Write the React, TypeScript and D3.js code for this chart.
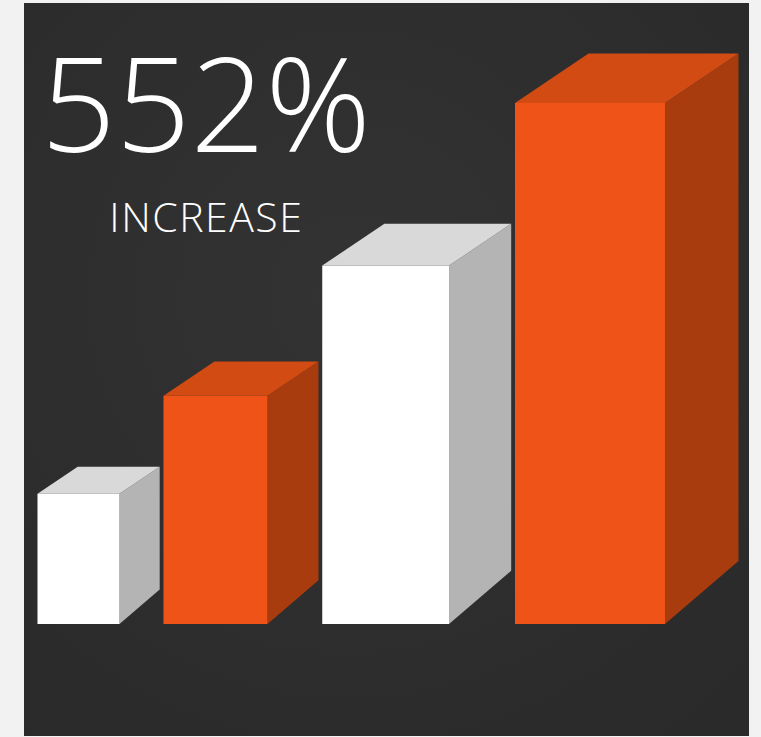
import React from "react";
import * as d3 from "d3";

const categories = ["Stage 1", "Stage 2", "Stage 3", "Stage 4"];
const values = [25, 43.8, 68.8, 100];
const palettes = ["white", "orange", "white", "orange"];
const headline = "552%";
const subline = "INCREASE";

const COLORS: Record<string, { front: string; top: string; side: string }> = {
  white: { front: "#ffffff", top: "#d9d9d9", side: "#b4b4b4" },
  orange: { front: "#ef5317", top: "#d14b12", side: "#a93c0f" },
};

const W = 761;
const H = 737;
const baseline = 624;

export default function App() {
  const y = d3.scaleLinear().domain([0, 100]).range([baseline, 103]);
  const wScale = d3.scaleSqrt().domain([0, 100]).range([14, 150]);

  let cursor = 37.5;
  const bars = categories.map((c, i) => {
    const w = wScale(values[i]);
    const dx = 0.49 * w;
    const dyT = -0.33 * w;
    const dyB = -0.42 * w;
    const x = cursor;
    cursor = x + w + dx + 3.8;
    const yt = y(values[i]);
    const col = COLORS[palettes[i]];
    const pts = (a: number[][]) => a.map((p) => p.join(",")).join(" ");
    return (
      <g key={c}>
        <polygon
          points={pts([
            [x + w, yt],
            [x + w + dx, yt + dyT],
            [x + w + dx, baseline + dyB],
            [x + w, baseline],
          ])}
          fill={col.side}
        />
        <polygon
          points={pts([
            [x, yt],
            [x + dx, yt + dyT],
            [x + w + dx, yt + dyT],
            [x + w, yt],
          ])}
          fill={col.top}
        />
        <rect x={x} y={yt} width={w} height={baseline - yt} fill={col.front} />
      </g>
    );
  });

  return (
    <svg
      width={W}
      height={H}
      style={{ position: "absolute", left: 0, top: 0 }}
      viewBox={`0 0 ${W} ${H}`}
    >
      <defs>
        <radialGradient id="bg" cx="0.45" cy="0.4" r="0.75">
          <stop offset="0" stopColor="#333333" />
          <stop offset="1" stopColor="#2a2a2a" />
        </radialGradient>
      </defs>
      <rect x={0} y={0} width={W} height={H} fill="#f2f2f2" />
      <rect x={24} y={3} width={725} height={733} fill="url(#bg)" />
      <text
        x={206}
        y={152}
        textAnchor="middle"
        fill="#ffffff"
        fontFamily="'Open Sans', sans-serif"
        fontWeight={300}
        fontSize={131}
      >
        {headline}
      </text>
      <text
        x={206.3}
        y={231.8}
        textAnchor="middle"
        fill="#ffffff"
        fontFamily="'Open Sans', sans-serif"
        fontWeight={300}
        fontSize={41}
        letterSpacing={1.5}
      >
        {subline}
      </text>
      {bars}
    </svg>
  );
}
